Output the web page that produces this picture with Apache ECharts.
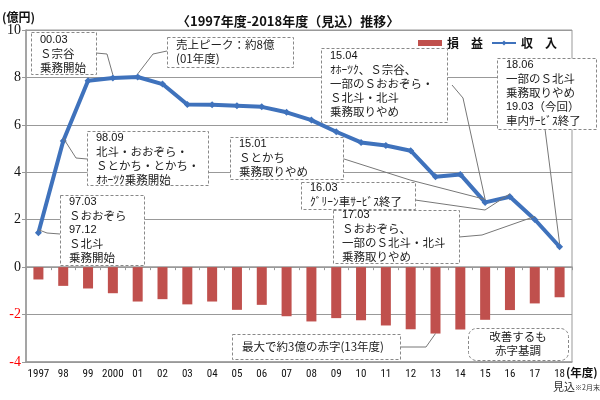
<!DOCTYPE html>
<html><head><meta charset="utf-8">
<script src="https://cdn.jsdelivr.net/npm/echarts@6/dist/echarts.min.js"></script>
<style>html,body{margin:0;padding:0;background:#fff}#c{width:600px;height:400px}</style>
</head><body><div id="c"></div>
<script>
// ---- data ----
const years = ['1997','98','99','2000','01','02','03','04','05','06','07','08','09','10','11','12','13','14','15','16','17','18'];
const income = [1.45, 5.32, 7.86, 7.98, 8.02, 7.72, 6.86, 6.85, 6.81, 6.76, 6.53, 6.20, 5.71, 5.26, 5.13, 4.91, 3.81, 3.91, 2.73, 2.97, 2.01, 0.86];
const profit = [-0.52, -0.79, -0.90, -1.10, -1.45, -1.35, -1.57, -1.45, -1.80, -1.59, -2.07, -2.29, -2.15, -2.24, -2.46, -2.62, -2.80, -2.63, -2.22, -1.81, -1.53, -1.27];
const yTicks = [-4, -2, 0, 2, 4, 6, 8, 10];
const seriesNames = ['損　益', '収　入'];
const titleText = '〈1997年度-2018年度（見込）推移〉';
const unitText = '(億円)';
const xUnitText = '(年度)';
const noteText = '見込';
const noteSmall = '※2月末';
const annoTexts = [
  '00.03\nＳ宗谷\n乗務開始',
  '売上ピーク：約8億\n(01年度)',
  '98.09\n北斗・おおぞら・\nＳとかち・とかち・\nｵﾎｰﾂｸ乗務開始',
  '97.03\nＳおおぞら\n97.12\nＳ北斗\n乗務開始',
  '15.04\nｵﾎｰﾂｸ、Ｓ宗谷、\n一部のＳおおぞら・\nＳ北斗・北斗\n乗務取りやめ',
  '18.06\n一部のＳ北斗\n乗務取りやめ\n19.03（今回）\n車内ｻｰﾋﾞｽ終了',
  '15.01\nＳとかち\n乗務取りやめ',
  '16.03\nｸﾞﾘｰﾝ車ｻｰﾋﾞｽ終了',
  '17.03\nＳおおぞら、\n一部のＳ北斗・北斗\n乗務取りやめ',
  '最大で約3億の赤字(13年度)',
  '改善するも\n赤字基調'
];
// target: [category index, which series]
const annoTargets = [[3,'line'],[4,'line'],[1,'line'],[0,'line'],[18,'line'],[21,'line'],[18,'line'],[19,'line'],[20,'line'],[16,'bar'],null];

// ---- layout (pixels) ----
const annoLayout = [
  {box:[31,32,65,42], path:[[96,53],[107,54]], dy:1},
  {box:[167,37,126,30], path:[[167,51],[153,54]], dy:1},
  {box:[87,131,121,54], path:[[87,159],[76,158]], dy:0},
  {box:[60,195,84,70], path:[[60,234],[47,233]], dy:0},
  {box:[321,48,126,74], path:[[452,85],[463,98]], dy:1},
  {box:[497,58,99,71], path:[[545,129]], dy:0},
  {box:[230,137,113,42], path:[[341,158],[410,180]], dy:0},
  {box:[301,182,114,27], path:[[415,200],[485,210]], dy:-1},
  {box:[333,210,126,53], path:[[459,237],[482,235]], dy:-2},
  {box:[232,334,168,25], path:[[400,347],[426,347]], single:true},
  {box:[468,328,100,32], path:null, center:true, round:true}
];

const CJK = "'Noto Sans CJK JP', sans-serif";
const chart = echarts.init(document.getElementById('c'));
const option = {
  animation: false,
  title: {text: titleText, left: 172, top: 10, textStyle: {fontFamily: CJK, fontSize: 13, fontWeight: 'bold', color: '#111'}},
  legend: {
    left: 413, top: 32, itemWidth: 24, itemHeight: 6, itemGap: 8,
    textStyle: {fontFamily: CJK, fontSize: 12, fontWeight: 'bold', color: '#111'},
    data: [{name: seriesNames[0], icon: 'rect'}, {name: seriesNames[1]}]
  },
  grid: {left: 26, right: 28, top: 30, bottom: 38, show: true, borderColor: '#999', borderWidth: 1},
  xAxis: [
    {type: 'category', data: years, position: 'bottom',
     axisLine: {onZero: false, lineStyle: {color: '#999', width: 1.5}}, axisTick: {show: false},
     axisLabel: {interval: 0, margin: 7, fontSize: 11, color: '#111', fontFamily: "'Liberation Sans Narrow', 'Roboto Condensed', 'Liberation Sans', sans-serif"}},
    {type: 'category', data: years, position: 'bottom',
     axisLine: {onZero: true, lineStyle: {color: '#999', width: 1.5}},
     axisTick: {show: true, interval: 0, length: 3, lineStyle: {color: '#999'}}, axisLabel: {show: false}}
  ],
  yAxis: {
    type: 'value', min: yTicks[0], max: yTicks[yTicks.length-1], interval: 2,
    axisLine: {show: true, lineStyle: {color: '#999', width: 1.5}},
    axisTick: {show: true, length: 4, lineStyle: {color: '#999'}},
    splitLine: {lineStyle: {color: '#999', width: 1}},
    axisLabel: {margin: 5, fontSize: 14, fontFamily: "'Liberation Serif', serif",
      color: v => (Number(v) < 0 ? '#ff0000' : '#111')}
  },
  series: [
    {name: seriesNames[0], type: 'bar', data: profit, barWidth: 10, itemStyle: {color: '#C0504D'}, z: 2},
    {name: seriesNames[1], type: 'line', data: income, symbol: 'diamond', symbolSize: 7,
     lineStyle: {color: '#3F72BC', width: 4}, itemStyle: {color: '#3F72BC'}, z: 3}
  ]
};
chart.setOption(option);

function richText(t) {
  return t.split('\n').map(line => {
    const m = line.match(/^(\d\d\.\d\d)(.*)$/);
    if (m) return '{d|' + m[1] + '}' + (m[2] ? '{j|' + m[2] + '}' : '');
    return '{j|' + line + '}';
  }).join('\n');
}

const gfx = [];
annoTexts.forEach((t, i) => {
  const L = annoLayout[i];
  const [x, y, w, h] = L.box;
  const tg = annoTargets[i];
  if (L.path && tg) {
    const val = tg[1] === 'bar' ? profit[tg[0]] : income[tg[0]];
    const p = chart.convertToPixel({seriesIndex: tg[1] === 'bar' ? 0 : 1}, [tg[0], val]);
    const pts = L.path.concat([[p[0], p[1] + (tg[1] === 'line' ? -3 : 0)]]);
    gfx.push({type: 'polyline', z: 90, shape: {points: pts}, style: {stroke: '#777', lineWidth: 1, fill: null}});
  }
  gfx.push({type: 'rect', z: 100, shape: {x: x + 0.5, y: y + 0.5, width: w, height: h, r: L.round ? 8 : 0},
    style: {fill: '#fff', stroke: '#888', lineWidth: 1, lineDash: [3, 2]}});
  const rich = {
    d: {fontFamily: "'Liberation Sans', sans-serif", fontSize: 11, fill: '#111', lineHeight: 14},
    j: {fontFamily: CJK, fontSize: 11.5, fill: '#222', lineHeight: 14}
  };
  if (L.center) {
    gfx.push({type: 'text', z: 101, style: {text: richText(t), rich, x: x + w / 2, y: y + h / 2, align: 'center', verticalAlign: 'middle'}});
  } else if (L.single) {
    gfx.push({type: 'text', z: 101, style: {text: richText(t), rich, x: x + 10, y: y + h / 2, verticalAlign: 'middle'}});
  } else {
    gfx.push({type: 'text', z: 101, style: {text: richText(t), rich, x: x + 9, y: y + (L.dy || 0)}});
  }
});
gfx.push({type: 'text', z: 101, style: {text: unitText, x: 2, y: 11, font: "bold 12px " + CJK, fill: '#111'}});
gfx.push({type: 'text', z: 101, style: {text: xUnitText, x: 566, y: 367, font: "bold 11.5px " + CJK, fill: '#111'}});
gfx.push({type: 'text', z: 101, style: {text: noteText, x: 553, y: 381, font: "11px " + CJK, fill: '#333'}});
gfx.push({type: 'text', z: 101, style: {text: noteSmall, x: 575, y: 384, font: "7px " + CJK, fill: '#333'}});
chart.setOption({graphic: {elements: gfx}});
</script>
</body></html>
